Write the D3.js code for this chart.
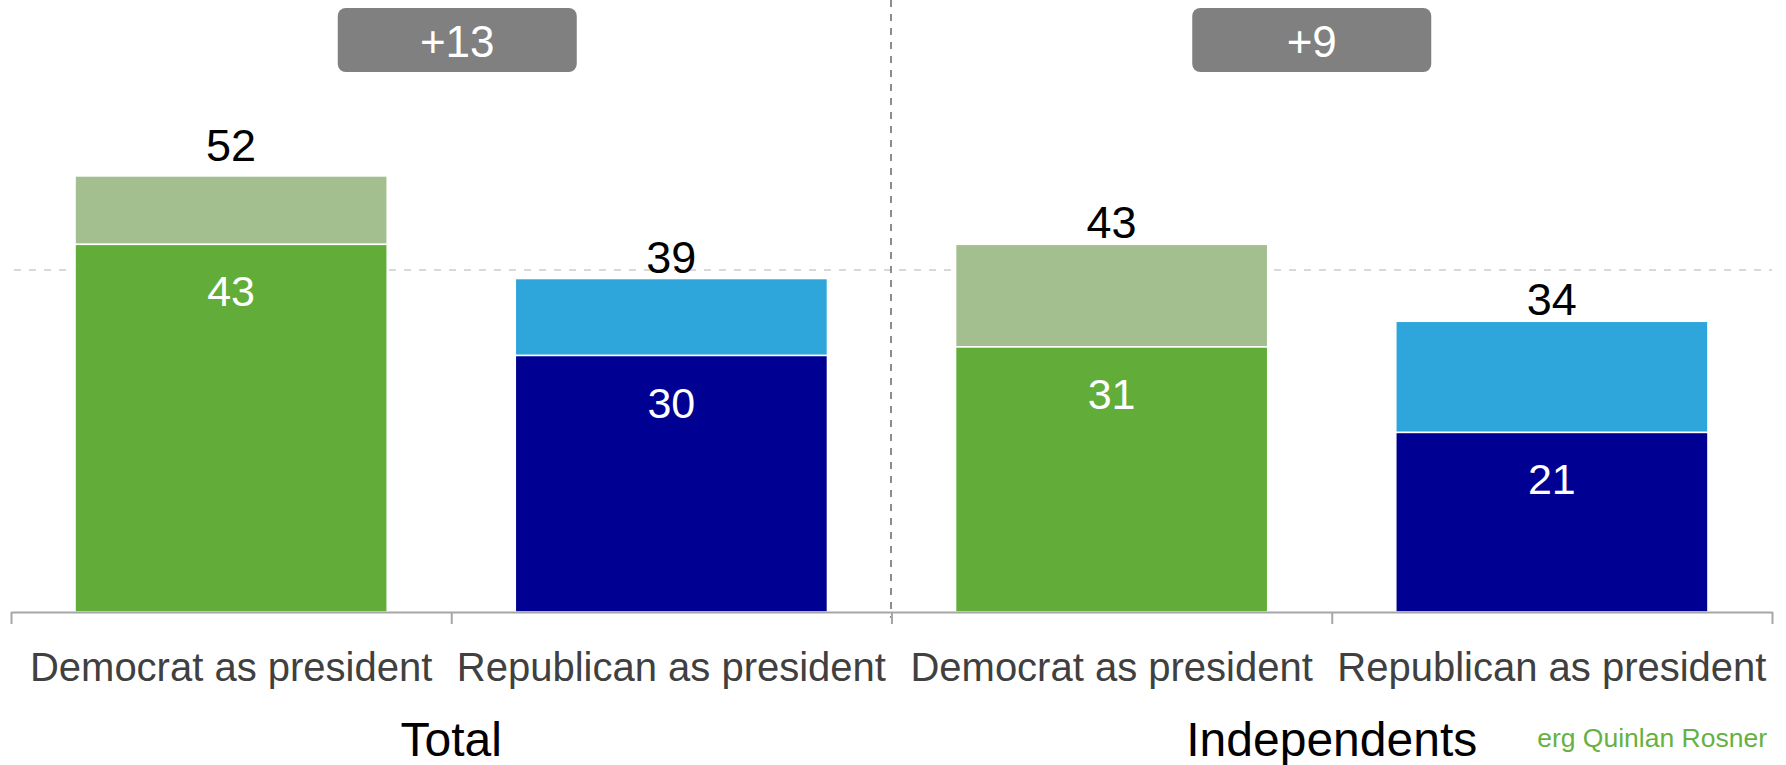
<!DOCTYPE html>
<html><head><meta charset="utf-8">
<script src="https://cdn.jsdelivr.net/npm/d3@7"></script>
<style>html,body{margin:0;padding:0;background:#fff;overflow:hidden;} svg{display:block;font-family:"Liberation Sans",Arial,sans-serif;}</style>
</head><body><svg id="c" width="1786" height="765"></svg>
<script>
// ---- data ----
const groups = ["Total", "Independents"];
const categories = ["Democrat as president", "Republican as president", "Democrat as president", "Republican as president"];
const catGroup = [0, 0, 1, 1];
const party = ["D", "R", "D", "R"];
const baseValues = [43, 30, 31, 21];
const topValues = [8, 9, 12, 13];
const totalLabels = [52, 39, 43, 34];
const gapLabels = ["+13", "+9"];
const gridValues = [40];
const sourceText = "Greenberg Quinlan Rosner";

// ---- layout ----
const W = 1786, H = 765;
const svg = d3.select("#c");
const ids = categories.map((c, i) => i);
const x = d3.scaleBand().domain(ids).range([11, 1772]).paddingInner(0.291).paddingOuter(0.1455);
const xEdge = d3.scaleLinear().domain([0, categories.length]).range([11, 1772]);
const y = d3.scaleLinear().domain([0, 70]).range([612, 13.5]);
const colors = { D: { base: "#62ad39", top: "#a3be8f" }, R: { base: "#000093", top: "#2ea5db" } };
const badgeShift = [6, -20];

// gridline
svg.selectAll(".grid").data(gridValues).enter().append("line")
  .attr("x1", 14).attr("x2", 1772)
  .attr("y1", d => y(d)).attr("y2", d => y(d))
  .attr("stroke", "#d9d9d9").attr("stroke-width", 2).attr("stroke-dasharray", "7,8");

// bars
const bars = svg.append("g");
ids.forEach(i => {
  const b = baseValues[i], t = topValues[i];
  bars.append("rect")
    .attr("x", x(i)).attr("width", x.bandwidth())
    .attr("y", y(b + t)).attr("height", y(b) - y(b + t))
    .attr("fill", colors[party[i]].top)
    .attr("stroke", "#fff").attr("stroke-width", 1.5);
  bars.append("rect")
    .attr("x", x(i)).attr("width", x.bandwidth())
    .attr("y", y(b)).attr("height", y(0) - y(b))
    .attr("fill", colors[party[i]].base)
    .attr("stroke", "#fff").attr("stroke-width", 1.5);
});

// divider
svg.append("line")
  .attr("x1", xEdge(2) - 0.5).attr("x2", xEdge(2) - 0.5)
  .attr("y1", 0).attr("y2", 618)
  .attr("stroke", "#8c8c8c").attr("stroke-width", 2).attr("stroke-dasharray", "7,7");

// axis
const axis = d3.axisBottom(xEdge).tickValues(d3.range(0, categories.length + 1)).tickSize(12).tickSizeOuter(0).tickFormat("");
const ag = svg.append("g").attr("transform", `translate(0,${y(0)})`).call(axis);
ag.select(".domain").attr("stroke", "#a6a6a6").attr("stroke-width", 2);
ag.selectAll(".tick line").attr("stroke", "#a6a6a6").attr("stroke-width", 2);

// labels on top
svg.selectAll(".tl").data(ids).enter().append("text")
  .attr("x", i => x(i) + x.bandwidth() / 2)
  .attr("y", i => y(totalLabels[i]) - 6)
  .attr("text-anchor", "middle").attr("font-size", 45).attr("fill", "#000")
  .text(i => totalLabels[i]);

// inner labels
svg.selectAll(".il").data(ids).enter().append("text")
  .attr("x", i => x(i) + x.bandwidth() / 2)
  .attr("y", i => y(baseValues[i]) + 62)
  .attr("text-anchor", "middle").attr("font-size", 43).attr("fill", "#fff")
  .text(i => baseValues[i]);

// category labels
svg.selectAll(".cl").data(ids).enter().append("text")
  .attr("x", i => x(i) + x.bandwidth() / 2)
  .attr("y", 681)
  .attr("text-anchor", "middle").attr("font-size", 40).attr("fill", "#404040")
  .text(i => categories[i]);

// group labels
svg.selectAll(".gl").data(groups).enter().append("text")
  .attr("x", (g, j) => xEdge(2 * j + 1))
  .attr("y", 756)
  .attr("text-anchor", "middle").attr("font-size", 48).attr("fill", "#000")
  .text(g => g);

// badges
groups.forEach((g, j) => {
  const cx = xEdge(2 * j + 1) + badgeShift[j];
  svg.append("rect").attr("x", cx - 119.5).attr("y", 8).attr("width", 239).attr("height", 64)
    .attr("rx", 8).attr("ry", 8).attr("fill", "#808080");
  svg.append("text").attr("x", cx).attr("y", 56.5).attr("text-anchor", "middle")
    .attr("font-size", 44).attr("fill", "#fff").text(gapLabels[j]);
});

// source (partially hidden)
svg.append("clipPath").attr("id", "srcclip").append("rect")
  .attr("x", 1537).attr("y", 700).attr("width", 249).attr("height", 65);
svg.append("text").attr("clip-path", "url(#srcclip)")
  .attr("x", 1767).attr("y", 747).attr("text-anchor", "end")
  .attr("font-size", 26.5).attr("fill", "#66b141").text(sourceText);
</script>
</body></html>
